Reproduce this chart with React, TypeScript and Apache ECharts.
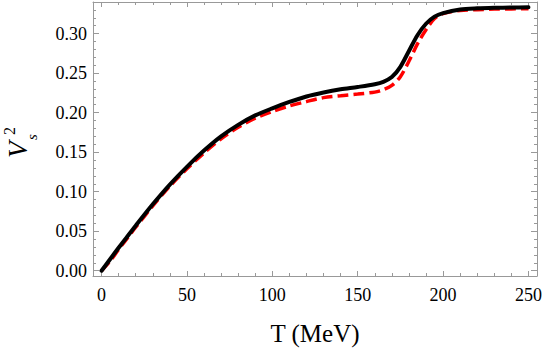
import React, { useEffect, useRef } from "react";
import * as echarts from "echarts";

const temps = [0, 5, 10, 15, 20, 30, 40, 50, 60, 70, 80, 90, 100, 110, 120, 130, 140, 150, 160, 165, 170, 175, 180, 185, 190, 195, 200, 210, 220, 230, 240, 250];
const blackV = [0.0, 0.0145, 0.029, 0.043, 0.057, 0.084, 0.109, 0.1315, 0.152, 0.17, 0.1845, 0.1965, 0.2055, 0.2135, 0.2205, 0.2255, 0.2295, 0.2325, 0.236, 0.239, 0.245, 0.258, 0.278, 0.298, 0.3125, 0.3215, 0.326, 0.3305, 0.332, 0.3327, 0.333, 0.3333];
const redV = [0.0, 0.012, 0.027, 0.041, 0.055, 0.082, 0.107, 0.129, 0.149, 0.167, 0.1815, 0.193, 0.2015, 0.2085, 0.214, 0.219, 0.2215, 0.2235, 0.226, 0.229, 0.2345, 0.2455, 0.265, 0.287, 0.305, 0.319, 0.3255, 0.3293, 0.3303, 0.331, 0.3313, 0.3316];

const xMajor = [0, 50, 100, 150, 200, 250];
const xMinor = [10, 20, 30, 40, 60, 70, 80, 90, 110, 120, 130, 140, 160, 170, 180, 190, 210, 220, 230, 240];
const yMajor = [0, 0.05, 0.1, 0.15, 0.2, 0.25, 0.3];
const yMinor = [0.01, 0.02, 0.03, 0.04, 0.06, 0.07, 0.08, 0.09, 0.11, 0.12, 0.13, 0.14, 0.16, 0.17, 0.18, 0.19, 0.21, 0.22, 0.23, 0.24, 0.26, 0.27, 0.28, 0.29, 0.31, 0.32, 0.33];

const X_MIN = -5;
const X_MAX = 255;
const Y_MIN = -0.00667;
const Y_MAX = 0.34;

const FRAME = "#999999";
const SERIF = "Liberation Serif, Times New Roman, DejaVu Serif, serif";

function makeX(position: "top" | "bottom", ticks: number[], len: number, showLine: boolean, labels: boolean) {
  return {
    type: "value",
    position,
    min: X_MIN,
    max: X_MAX,
    axisLine: { show: showLine, onZero: false, lineStyle: { color: FRAME, width: 1 } },
    axisTick: { show: true, inside: true, length: len, customValues: ticks, lineStyle: { color: FRAME, width: 1 } },
    axisLabel: labels
      ? { show: true, customValues: ticks, margin: 10, color: "#000", fontFamily: SERIF, fontSize: 18, formatter: (v: number) => String(v) }
      : { show: false },
    splitLine: { show: false },
  };
}

function makeY(position: "left" | "right", ticks: number[], len: number, showLine: boolean, labels: boolean) {
  return {
    type: "value",
    position,
    min: Y_MIN,
    max: Y_MAX,
    axisLine: { show: showLine, onZero: false, lineStyle: { color: FRAME, width: 1 } },
    axisTick: { show: true, inside: true, length: len, customValues: ticks, lineStyle: { color: FRAME, width: 1 } },
    axisLabel: labels
      ? { show: true, customValues: ticks, margin: 6, color: "#000", fontFamily: SERIF, fontSize: 18, formatter: (v: number) => v.toFixed(2) }
      : { show: false },
    splitLine: { show: false },
  };
}

export default function App() {
  const ref = useRef<HTMLDivElement>(null);
  useEffect(() => {
    if (!ref.current) return;
    document.body.style.margin = "0";
    const chart = echarts.init(ref.current, null, { renderer: "svg" });
    const black = temps.map((t, i) => [t, blackV[i]]);
    const red = temps.map((t, i) => [t, redV[i]]);
    chart.setOption({
      animation: false,
      backgroundColor: "#fff",
      grid: { left: 93, top: 2, right: 8, bottom: 75, containLabel: false },
      xAxis: [
        makeX("bottom", xMajor, 5, true, true),
        makeX("bottom", xMinor, 3, false, false),
        makeX("top", xMajor, 5, true, false),
        makeX("top", xMinor, 3, false, false),
      ],
      yAxis: [
        makeY("left", yMajor, 6, true, true),
        makeY("left", yMinor, 3, false, false),
        makeY("right", yMajor, 6, true, false),
        makeY("right", yMinor, 3, false, false),
      ],
      series: [
        {
          type: "line",
          name: "red",
          data: red,
          xAxisIndex: 0,
          yAxisIndex: 0,
          showSymbol: false,
          smooth: 0.3,
          lineStyle: { color: "#ff0000", width: 3.5, type: [11, 5] },
          z: 2,
        },
        {
          type: "line",
          name: "black",
          data: black,
          xAxisIndex: 0,
          yAxisIndex: 0,
          showSymbol: false,
          smooth: 0.3,
          lineStyle: { color: "#000000", width: 4, cap: "round", join: "round" },
          z: 3,
        },
      ],
      graphic: [
        {
          type: "text",
          x: 315,
          y: 333,
          style: {
            text: "T (MeV)",
            fontFamily: SERIF,
            fontSize: 25,
            fill: "#000",
            align: "center",
            verticalAlign: "middle",
          },
        },
        {
          type: "group",
          x: 18,
          y: 158,
          rotation: Math.PI / 2,
          children: [
            {
              type: "text",
              x: 0,
              y: 0,
              style: {
                text: "V",
                fontFamily: SERIF,
                fontStyle: "italic",
                fontSize: 27,
                fill: "#000",
                align: "left",
                verticalAlign: "middle",
              },
            },
            {
              type: "text",
              x: 23,
              y: -9,
              style: {
                text: "2",
                fontFamily: SERIF,
                fontSize: 16,
                fill: "#000",
                align: "left",
                verticalAlign: "middle",
              },
            },
            {
              type: "text",
              x: 18,
              y: 14,
              style: {
                text: "s",
                fontFamily: SERIF,
                fontStyle: "italic",
                fontSize: 15,
                fill: "#000",
                align: "left",
                verticalAlign: "middle",
              },
            },
          ],
        },
      ],
    });
    return () => chart.dispose();
  }, []);
  return <div ref={ref} style={{ position: "absolute", left: 0, top: 0, width: 545, height: 351 }} />;
}
